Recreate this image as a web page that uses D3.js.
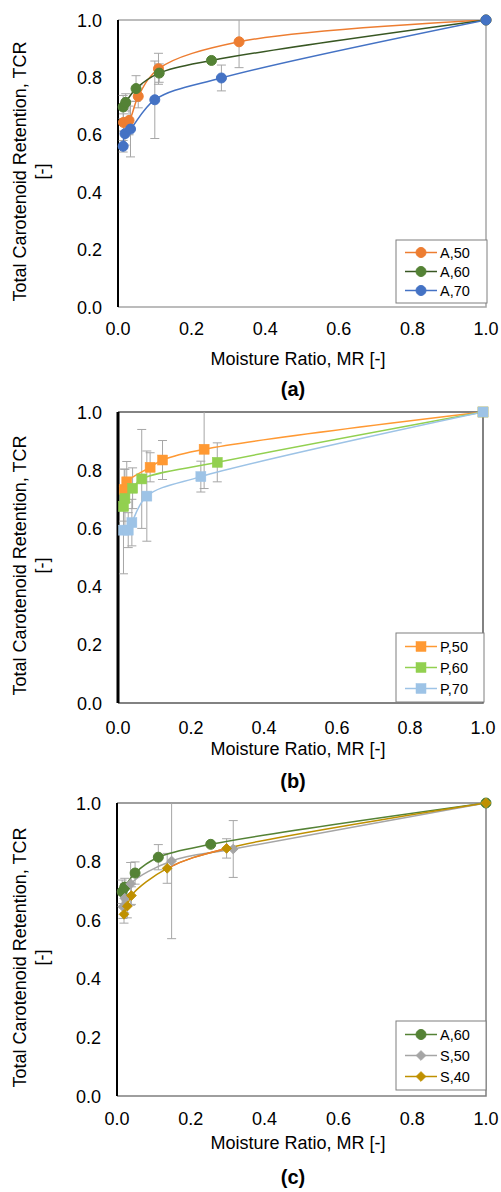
<!DOCTYPE html>
<html>
<head>
<meta charset="utf-8">
<script src="https://cdn.jsdelivr.net/npm/d3@7"></script>
<style>
  body { margin: 0; background: #fff; }
  svg { font-family: "Liberation Sans", Arial, sans-serif; }
</style>
</head>
<body>
<svg id="canvas" width="501" height="1192"></svg>
<script>
// panel (a) - A series
var xA50 = [0.015, 0.030, 0.055, 0.110, 0.329, 1];
var yA50 = [0.643, 0.650, 0.734, 0.830, 0.924, 1];
var eA50 = [0.03, 0.05, 0.04, 0.054, 0.09, 0];
var xA60 = [0.014, 0.021, 0.049, 0.112, 0.254, 1];
var yA60 = [0.697, 0.713, 0.761, 0.815, 0.859, 1];
var eA60 = [0.04, 0.03, 0.045, 0.032, 0, 0];
var xA70 = [0.014, 0.019, 0.034, 0.100, 0.281, 1];
var yA70 = [0.560, 0.604, 0.620, 0.722, 0.798, 1];
var eA70 = [0.02, 0.04, 0.097, 0.135, 0.045, 0];

// panel (b) - P series
var xP50 = [0.017, 0.024, 0.088, 0.122, 0.236, 1];
var yP50 = [0.734, 0.760, 0.810, 0.835, 0.872, 1];
var eP50 = [0.07, 0.07, 0.05, 0.067, 0.135, 0];
var xP60 = [0.015, 0.019, 0.040, 0.065, 0.272, 1];
var yP60 = [0.675, 0.703, 0.738, 0.770, 0.827, 1];
var eP60 = [0.05, 0.10, 0.07, 0.17, 0.067, 0];
var xP70 = [0.015, 0.028, 0.038, 0.079, 0.227, 1];
var yP70 = [0.594, 0.594, 0.620, 0.711, 0.778, 1];
var eP70 = [0.15, 0.06, 0.08, 0.155, 0.053, 0];

// panel (c) - S series (+ A,60 again)
var eA60c = [0.04, 0.03, 0.038, 0.043, 0, 0];
var xS50 = [0.016, 0.021, 0.037, 0.148, 0.315, 1];
var yS50 = [0.646, 0.675, 0.724, 0.802, 0.843, 1];
var eS50 = [0.04, 0.05, 0.073, 0.265, 0.097, 0];
var xS40 = [0.019, 0.028, 0.039, 0.136, 0.297, 1];
var yS40 = [0.620, 0.648, 0.684, 0.777, 0.845, 1];
var eS40 = [0.03, 0.04, 0.03, 0.051, 0.033, 0];

var tickValues = [0, 0.2, 0.4, 0.6, 0.8, 1.0];
var xTitle = 'Moisture Ratio, MR [-]';
var yTitle1 = 'Total Carotenoid Retention, TCR';
var yTitle2 = '[-]';

function zip(xs, ys, es){
	return xs.map(function(x, i){ return {x: x, y: ys[i], e: es[i]}; });
}

var panels = [
	{label: '(a)', top: 20, bottom: 307, left: 118, right: 486, tickY: 328, titleY: 358, labelY: 389,
	 frame: '#a6a6a6', leftW: 2,
	 legend: {right: 487, bottom: 303, step: 19},
	 series: [
		{name: 'A,50', pts: zip(xA50, yA50, eA50), color: '#ed7d31', line: '#ed7d31', shape: 'circle'},
		{name: 'A,60', pts: zip(xA60, yA60, eA60), color: '#548235', line: '#385723', shape: 'circle'},
		{name: 'A,70', pts: zip(xA70, yA70, eA70), color: '#4472c4', line: '#4472c4', shape: 'circle'}
	]},
	{label: '(b)', top: 412, bottom: 703, left: 118, right: 483, tickY: 727, titleY: 748, labelY: 781,
	 frame: '#595959', leftW: 3,
	 legend: {right: 484, bottom: 702, step: 21},
	 series: [
		{name: 'P,50', pts: zip(xP50, yP50, eP50), color: '#ff9933', line: '#ff9933', shape: 'square'},
		{name: 'P,60', pts: zip(xP60, yP60, eP60), color: '#92d050', line: '#92d050', shape: 'square'},
		{name: 'P,70', pts: zip(xP70, yP70, eP70), color: '#9dc3e6', line: '#9dc3e6', shape: 'square'}
	]},
	{label: '(c)', top: 803, bottom: 1096, left: 117, right: 486, tickY: 1118, titleY: 1142, labelY: 1177,
	 frame: '#7f7f7f', leftW: 2,
	 legend: {right: 486, bottom: 1090, step: 21},
	 series: [
		{name: 'A,60', pts: zip(xA60, yA60, eA60c), color: '#548235', line: '#548235', shape: 'circle'},
		{name: 'S,50', pts: zip(xS50, yS50, eS50), color: '#a5a5a5', line: '#a5a5a5', shape: 'diamond'},
		{name: 'S,40', pts: zip(xS40, yS40, eS40), color: '#bf9000', line: '#bf9000', shape: 'diamond',
		 oddSeg: {from: 3, to: 4, color: '#ed7d31'}}
	]}
];

var svg = d3.select('#canvas');
var fmt = d3.format('.1f');

function drawMarker(g, shape, cx, cy, color){
	if (shape == 'circle') {
		g.append('circle').attr('cx', cx).attr('cy', cy).attr('r', 5)
			.attr('fill', color).attr('stroke', color);
	} else if (shape == 'square') {
		g.append('rect').attr('x', cx - 5).attr('y', cy - 5).attr('width', 10).attr('height', 10)
			.attr('fill', color).attr('stroke', color).attr('stroke-width', 0.5);
	} else {
		g.append('path').attr('d', d3.symbol(d3.symbolDiamond2, 60)())
			.attr('transform', 'translate(' + cx + ',' + cy + ')')
			.attr('fill', color).attr('stroke', color);
	}
}

panels.forEach(function(p, pi){
	var x = d3.scaleLinear().domain([0, 1]).range([p.left, p.right]);
	var y = d3.scaleLinear().domain([0, 1]).range([p.bottom, p.top]);
	var g = svg.append('g');
	var clipId = 'clip' + pi;

	svg.append('clipPath').attr('id', clipId).append('rect')
		.attr('x', p.left).attr('y', p.top)
		.attr('width', p.right - p.left).attr('height', p.bottom - p.top);

	// frame: top, right, bottom gray, left black
	g.append('path')
		.attr('d', 'M' + p.left + ',' + p.top + 'H' + p.right + 'V' + p.bottom + 'H' + p.left)
		.attr('fill', 'none').attr('stroke', p.frame).attr('stroke-width', 1.5);
	g.append('line')
		.attr('x1', p.left).attr('x2', p.left).attr('y1', p.top).attr('y2', p.bottom)
		.attr('stroke', '#000').attr('stroke-width', p.leftW);

	// tick labels
	g.selectAll('.yt').data(tickValues).enter().append('text')
		.attr('x', p.left - 16).attr('y', function(d){ return y(d) + 6.5; })
		.attr('text-anchor', 'end').attr('font-size', 18).attr('fill', '#000')
		.text(fmt);
	g.selectAll('.xt').data(tickValues).enter().append('text')
		.attr('x', function(d){ return x(d); }).attr('y', p.tickY + 6.5)
		.attr('text-anchor', 'middle').attr('font-size', 18).attr('fill', '#000')
		.text(fmt);

	// axis titles
	g.append('text').attr('x', 298).attr('y', p.titleY + 6.5)
		.attr('text-anchor', 'middle').attr('font-size', 18).text(xTitle);
	var cy = (p.top + p.bottom) / 2 + 8;
	g.append('text').attr('transform', 'translate(26,' + cy + ') rotate(-90)')
		.attr('text-anchor', 'middle').attr('font-size', 18).text(yTitle1);
	g.append('text').attr('transform', 'translate(48,' + cy + ') rotate(-90)')
		.attr('text-anchor', 'middle').attr('font-size', 18).text(yTitle2);
	g.append('text').attr('x', 293).attr('y', p.labelY + 7)
		.attr('text-anchor', 'middle').attr('font-size', 20).attr('font-weight', 'bold').text(p.label);

	var plot = g.append('g').attr('clip-path', 'url(#' + clipId + ')');

	// error bars
	p.series.forEach(function(s){
		s.pts.filter(function(d){ return d.e > 0; }).forEach(function(d){
			var px = x(d.x), y1 = y(d.y + d.e), y2 = y(d.y - d.e);
			plot.append('path')
				.attr('d', 'M' + px + ',' + y1 + 'V' + y2 +
					'M' + (px - 4.5) + ',' + y1 + 'h9' +
					'M' + (px - 4.5) + ',' + y2 + 'h9')
				.attr('fill', 'none').attr('stroke', '#a6a6a6').attr('stroke-width', 1);
		});
	});

	// smooth lines
	var line = d3.line().x(function(d){ return x(d.x); }).y(function(d){ return y(d.y); })
		.curve(d3.curveCatmullRom.alpha(0.5));
	p.series.forEach(function(s){
		plot.append('path').datum(s.pts).attr('d', line)
			.attr('fill', 'none').attr('stroke', s.line).attr('stroke-width', 1.5);
		if (s.oddSeg) {
			var seg = s.pts.slice(s.oddSeg.from - 1, s.oddSeg.to + 2);
			var full = line(seg);
			// draw only the piece between the two points
			var tmp = plot.append('path').attr('d', full).attr('fill', 'none');
			var node = tmp.node();
			var total = node.getTotalLength();
			var a = 0, b = total, steps = 400, best1 = 1e9, best2 = 1e9;
			var p1 = [x(s.pts[s.oddSeg.from].x), y(s.pts[s.oddSeg.from].y)];
			var p2 = [x(s.pts[s.oddSeg.to].x), y(s.pts[s.oddSeg.to].y)];
			for (var i = 0; i <= steps; i++) {
				var l = total * i / steps, pt = node.getPointAtLength(l);
				var d1 = Math.hypot(pt.x - p1[0], pt.y - p1[1]);
				var d2 = Math.hypot(pt.x - p2[0], pt.y - p2[1]);
				if (d1 < best1) { best1 = d1; a = l; }
				if (d2 < best2) { best2 = d2; b = l; }
			}
			tmp.attr('stroke', s.oddSeg.color).attr('stroke-width', 1.5)
				.attr('stroke-dasharray', '0,' + a + ',' + (b - a) + ',' + total);
		}
	});

	// markers
	p.series.forEach(function(s){
		var mg = g.append('g');
		s.pts.forEach(function(d){ drawMarker(mg, s.shape, x(d.x), y(d.y), s.color); });
	});

	// legend
	var L = p.legend, n = p.series.length;
	var lTop = L.bottom - L.step * n - 6;
	g.append('rect').attr('x', 396).attr('y', lTop)
		.attr('width', L.right - 396).attr('height', L.bottom - lTop)
		.attr('fill', '#fff').attr('stroke', '#7f7f7f').attr('stroke-width', 1);
	p.series.forEach(function(s, i){
		var ly = lTop + 3 + L.step * (i + 0.5);
		g.append('line').attr('x1', 405).attr('x2', 437).attr('y1', ly).attr('y2', ly)
			.attr('stroke', s.line).attr('stroke-width', 1.5);
		drawMarker(g, s.shape, 421, ly, s.color);
		g.append('text').attr('x', 440).attr('y', ly + 5)
			.attr('font-size', 14.5).text(s.name);
	});
});
</script>
</body>
</html>
